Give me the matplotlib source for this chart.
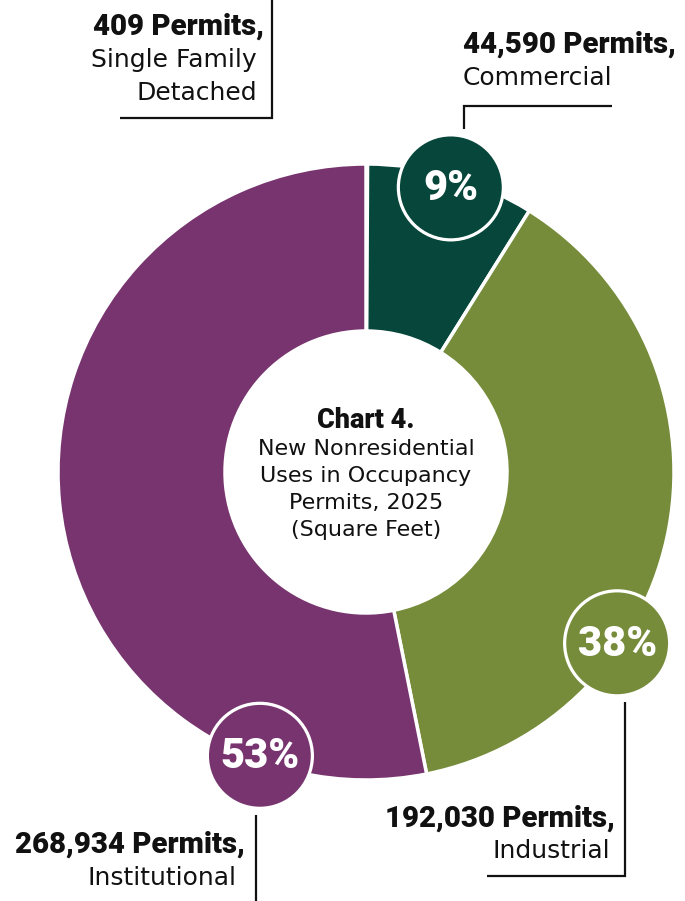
import matplotlib.pyplot as plt
from matplotlib.patches import Circle
import numpy as np

# data
categories = ['Single Family\nDetached', 'Commercial', 'Industrial', 'Institutional']
sqft = [409, 44590, 192030, 268934]
colors = ['#ffffff', '#06463b', '#768c3a', '#77346e']

W, H = 685, 901
cx, cy = 366, 472
r_out, r_in = 308, 141

fig = plt.figure(figsize=(W / 100, H / 100), dpi=100)
ax = fig.add_axes([0, 0, 1, 1])

# y axis points down so positions are in pixels; ccw in data = clockwise on screen
ax.pie(sqft, colors=colors, startangle=-90, counterclock=True,
       radius=r_out, center=(cx, cy),
       wedgeprops=dict(width=r_out - r_in, edgecolor='white', linewidth=2.5))
ax.set_xlim(0, W)
ax.set_ylim(H, 0)
ax.set_aspect('auto')
ax.axis('off')

total = sum(sqft)
pcts = [round(v / total * 100) for v in sqft]

# percentage badges (clockwise angle from top, distance from centre)
badges = {1: (16.6, 297), 2: (124.3, 304), 3: (200.5, 303)}
for i, (ang, dist) in badges.items():
    a = np.radians(ang)
    bx, by = cx + dist * np.sin(a), cy - dist * np.cos(a)
    ax.add_patch(Circle((bx, by), 52.5, facecolor=colors[i], edgecolor='white',
                        linewidth=2.3, zorder=5))
    ax.text(bx, by + 1, f'{pcts[i]}%', color='white', fontsize=30, fontweight=900,
            family='Roboto', ha='center', va='center', zorder=6)

# leader lines
lk = dict(color='#111111', lw=1.6, solid_capstyle='butt', solid_joinstyle='miter')
ax.plot([120, 272, 272], [118, 118, 0], **lk)
ax.plot([464, 464, 612], [129, 106, 106], **lk)
ax.plot([625, 625, 487], [702, 876, 876], **lk)
ax.plot([256, 256], [815, 901], **lk)

bold = dict(family='Roboto', fontweight=900, fontsize=21.2, color='#111111', va='baseline')
reg = dict(family='DejaVu Sans', fontsize=18, color='#111111', va='baseline')

def fmt(v):
    return f'{v:,} Permits,'

# Single Family Detached
ax.text(264, 35, fmt(sqft[0]), ha='right', **bold)
ax.text(257, 67, 'Single Family', ha='right', **reg)
ax.text(257, 100, 'Detached', ha='right', **reg)
# Commercial
ax.text(463, 53, fmt(sqft[1]), ha='left', **bold)
ax.text(463, 85, categories[1], ha='left', **reg)
# Industrial
ax.text(615, 827, fmt(sqft[2]), ha='right', **bold)
ax.text(610, 858, categories[2], ha='right', **reg)
# Institutional
ax.text(245, 853, fmt(sqft[3]), ha='right', **bold)
ax.text(237, 885, categories[3], ha='right', **reg)

# centre title
ax.text(cx, 428, 'Chart 4.', ha='center', family='Roboto', fontweight=900,
        fontsize=19.5, color='#111111', va='baseline')
center_lines = ['New Nonresidential', 'Uses in Occupancy', 'Permits, 2025', '(Square Feet)']
for k, line in enumerate(center_lines):
    ax.text(cx, 455 + 27 * k, line, ha='center', family='DejaVu Sans',
            fontsize=16, color='#111111', va='baseline')

fig.savefig('out.png', dpi=100, facecolor='white')
